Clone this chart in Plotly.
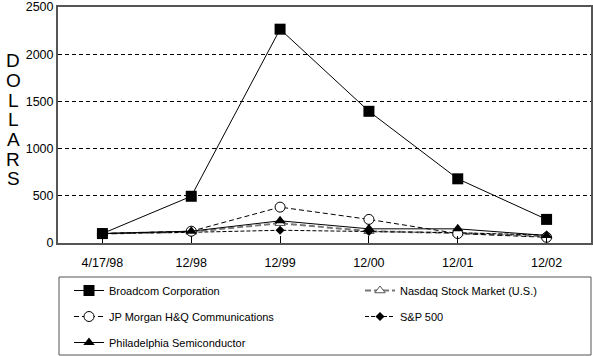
import plotly.graph_objects as go

categories = ["4/17/98", "12/98", "12/99", "12/00", "12/01", "12/02"]
broadcom = [100, 495, 2265, 1395, 680, 250]
jp_morgan = [100, 125, 380, 250, 100, 60]
philadelphia = [100, 125, 235, 150, 150, 80]
nasdaq = [100, 118, 210, 125, 105, 72]
sp500 = [100, 113, 135, 123, 108, 84]
y_ticks = [0, 500, 1000, 1500, 2000, 2500]

W, H = 593, 356
L, R, T, B = 58, 2, 7, 113
PW, PH = W - L - R, H - T - B

def px_x(x):
    return (x - L) / PW

def px_y(y):
    return (H - B - y) / PH

FONT = "Liberation Sans, Arial, sans-serif"

fig = go.Figure()

fig.add_trace(go.Scatter(
    x=categories, y=nasdaq, name="Nasdaq Stock Market (U.S.)",
    mode="lines+markers", legend="legend2", legendgroup="n",
    line=dict(color="#777777", width=2, dash="6px,3px"),
    marker=dict(symbol="triangle-up", size=9, color="white",
                line=dict(color="#555555", width=1)),
))
fig.add_trace(go.Scatter(
    x=categories, y=sp500, name="S&P 500",
    mode="lines+markers", legend="legend2", legendgroup="s",
    line=dict(color="black", width=1, dash="4px,2px"),
    marker=dict(symbol="diamond", size=7, color="black"),
))
fig.add_trace(go.Scatter(
    x=categories, y=jp_morgan, name="JP Morgan H&Q Communications",
    mode="lines+markers", legend="legend", legendgroup="j", legendrank=2,
    line=dict(color="black", width=1, dash="5px,3px"),
    marker=dict(symbol="circle", size=10, color="white",
                line=dict(color="black", width=1)),
))
fig.add_trace(go.Scatter(
    x=categories, y=philadelphia, name="Philadelphia Semiconductor",
    mode="lines+markers", legend="legend", legendgroup="p", legendrank=3,
    line=dict(color="black", width=1),
    marker=dict(symbol="triangle-up", size=10, color="black"),
))
fig.add_trace(go.Scatter(
    x=categories, y=broadcom, name="Broadcom Corporation",
    mode="lines+markers", legend="legend", legendgroup="b", legendrank=1,
    line=dict(color="black", width=1),
    marker=dict(symbol="square", size=11, color="black"),
))

letters = list("DOLLARS")
annotations = []
for i, ch in enumerate(letters):
    yc = 61 + i * 19.6
    annotations.append(dict(
        text=ch, x=px_x(13), y=px_y(yc), xref="paper", yref="paper",
        xanchor="center", yanchor="middle", showarrow=False,
        font=dict(family=FONT, size=19, color="black"),
    ))

fig.update_layout(
    width=W, height=H,
    margin=dict(l=L, r=R, t=T, b=B, autoexpand=False),
    paper_bgcolor="white", plot_bgcolor="white",
    font=dict(family=FONT, size=12, color="black"),
    annotations=annotations,
    shapes=[dict(
        type="rect", xref="paper", yref="paper",
        x0=px_x(59), x1=px_x(591), y0=px_y(355), y1=px_y(277),
        line=dict(color="#555555", width=1), fillcolor="rgba(0,0,0,0)",
    )],
    legend=dict(
        x=px_x(69), y=px_y(276), xanchor="left", yanchor="top",
        orientation="v", tracegroupgap=7, bgcolor="rgba(0,0,0,0)",
        font=dict(family=FONT, size=11, color="black"),
    ),
    legend2=dict(
        x=px_x(360), y=px_y(276), xanchor="left", yanchor="top",
        orientation="v", tracegroupgap=7, bgcolor="rgba(0,0,0,0)",
        font=dict(family=FONT, size=11, color="black"),
    ),
    xaxis=dict(
        type="category", range=[-0.5, 5.5],
        showline=True, mirror=True, linecolor="#555555", linewidth=2,
        ticks="inside", ticklen=7, tickcolor="black", tickwidth=1,
        showgrid=False, ticklabelstandoff=7,
        tickfont=dict(family=FONT, size=12.5, color="black"),
    ),
    yaxis=dict(
        range=[0, 2500], tickvals=y_ticks,
        ticktext=[str(v) for v in y_ticks],
        showline=True, mirror=True, linecolor="#555555", linewidth=2,
        ticks="", showgrid=True, gridcolor="black", gridwidth=1,
        griddash="4px,3px", zeroline=False,
        tickfont=dict(family=FONT, size=12.5, color="black"),
    ),
)

fig.write_html("out.html", config={"displayModeBar": False},
               post_script="document.body.style.margin='0px';")
